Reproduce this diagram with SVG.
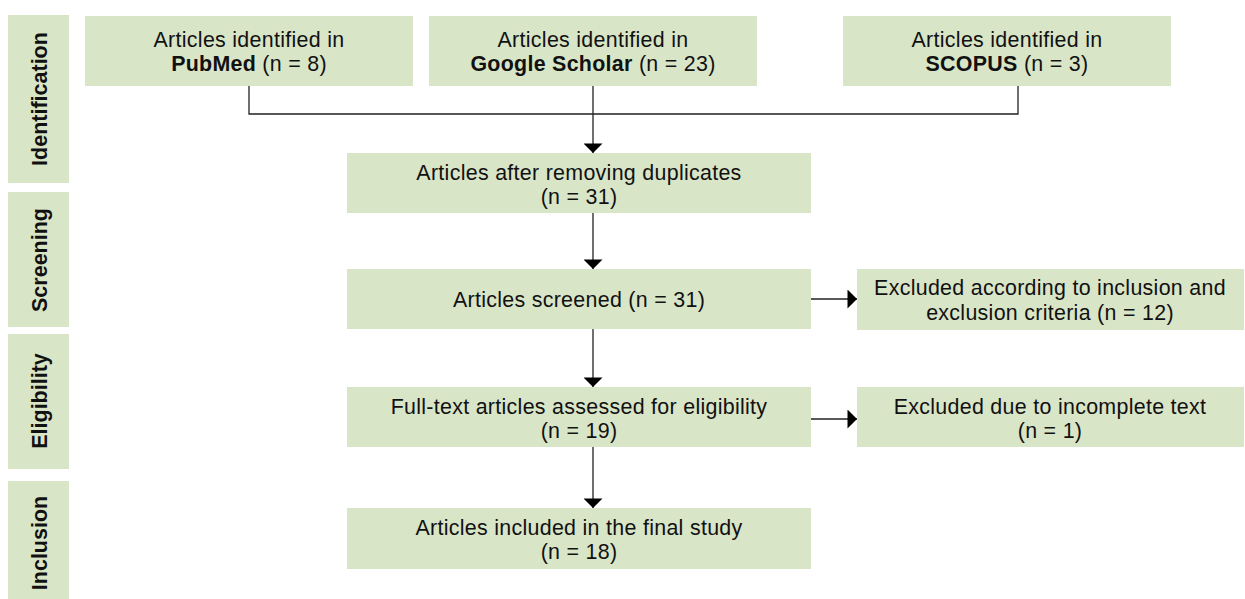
<svg xmlns="http://www.w3.org/2000/svg" width="1245" height="599" viewBox="0 0 1245 599">
<style>
.box{fill:#d9e5c7}
.t{font-family:"Liberation Sans",Arial,sans-serif;font-size:21.4px;letter-spacing:0.3px;fill:#111;text-anchor:middle}
.b{font-weight:bold}
.s{font-family:"Liberation Sans",Arial,sans-serif;font-size:21.5px;font-weight:bold;fill:#111;text-anchor:middle}
.c{stroke:#222;stroke-width:1.3;fill:none}
</style>
<defs>
<marker id="av" viewBox="0 0 10 20" refX="10" refY="10" markerWidth="10" markerHeight="19" markerUnits="userSpaceOnUse" orient="auto">
<path d="M0,0 L10,10 L0,20 Z" fill="#000"/>
</marker>
</defs>
<g id="stage-identification"><rect class="box" x="8" y="15" width="61" height="168"/><text class="s" transform="translate(47,99) rotate(-90)">Identification</text></g>
<g id="stage-screening"><rect class="box" x="8" y="192" width="61" height="135"/><text class="s" transform="translate(47,260) rotate(-90)">Screening</text></g>
<g id="stage-eligibility"><rect class="box" x="8" y="334" width="61" height="135"/><text class="s" transform="translate(47,401) rotate(-90)">Eligibility</text></g>
<g id="stage-inclusion"><rect class="box" x="8" y="481" width="61" height="118"/><text class="s" transform="translate(47,543) rotate(-90)">Inclusion</text></g>

<g id="pubmed"><rect class="box" x="85" y="16" width="328" height="70"/><text class="t" x="249" y="47">Articles identified in</text><text class="t" x="249" y="71"><tspan class="b">PubMed</tspan> (n = 8)</text></g>
<g id="scholar"><rect class="box" x="429" y="16" width="328" height="70"/><text class="t" x="593" y="47">Articles identified in</text><text class="t" x="593" y="71"><tspan class="b">Google Scholar</tspan> (n = 23)</text></g>
<g id="scopus"><rect class="box" x="843" y="16" width="328" height="70"/><text class="t" x="1007" y="47">Articles identified in</text><text class="t" x="1007" y="71"><tspan class="b">SCOPUS</tspan> (n = 3)</text></g>

<g id="duplicates"><rect class="box" x="347" y="153" width="464" height="60"/><text class="t" x="579" y="180">Articles after removing duplicates</text><text class="t" x="579" y="204">(n = 31)</text></g>
<g id="screened"><rect class="box" x="347" y="269" width="464" height="60"/><text class="t" x="579" y="307">Articles screened (n = 31)</text></g>
<g id="fulltext"><rect class="box" x="347" y="387" width="464" height="60"/><text class="t" x="579" y="414">Full-text articles assessed for eligibility</text><text class="t" x="579" y="438">(n = 19)</text></g>
<g id="included"><rect class="box" x="347" y="508" width="464" height="61"/><text class="t" x="579" y="535">Articles included in the final study</text><text class="t" x="579" y="559">(n = 18)</text></g>

<g id="excluded1"><rect class="box" x="857" y="269" width="387" height="61"/><text class="t" x="1050" y="295">Excluded according to inclusion and</text><text class="t" x="1050" y="320">exclusion criteria (n = 12)</text></g>
<g id="excluded2"><rect class="box" x="857" y="387" width="387" height="60"/><text class="t" x="1050" y="414">Excluded due to incomplete text</text><text class="t" x="1050" y="438">(n = 1)</text></g>

<g id="connectors">
<path class="c" d="M249,86 V114 H1018 V86"/>
<path class="c" d="M593,86 V153" marker-end="url(#av)"/>
<path class="c" d="M593,213 V269" marker-end="url(#av)"/>
<path class="c" d="M593,329 V387" marker-end="url(#av)"/>
<path class="c" d="M593,447 V508" marker-end="url(#av)"/>
<path class="c" d="M811,299 H857" marker-end="url(#av)"/>
<path class="c" d="M811,419 H857" marker-end="url(#av)"/>
</g>
</svg>
